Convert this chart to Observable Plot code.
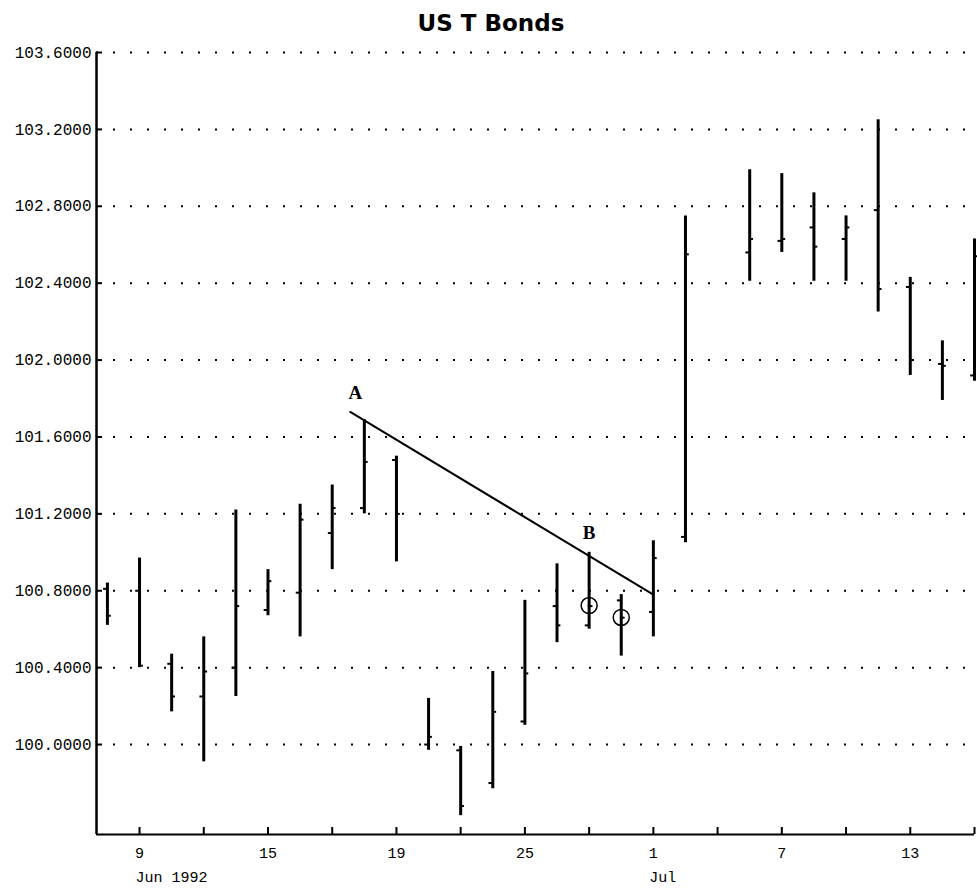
<!DOCTYPE html>
<html><head><meta charset="utf-8">
<script src="https://cdn.jsdelivr.net/npm/d3@7"></script>
<script src="https://cdn.jsdelivr.net/npm/@observablehq/plot@0.6"></script>
<style>
body{margin:0;background:#fff;}
#title{width:982px;height:42px;text-align:center;font-family:"DejaVu Sans";font-weight:bold;font-size:23px;line-height:46px;color:#000;}
#chart svg{display:block;}
</style></head><body>
<div id="title">US T Bonds</div>
<div id="chart"></div>
<script>
// trading sessions (Jul 3 holiday keeps its slot on the axis)
const sessions = ["1992-06-08","1992-06-09","1992-06-10","1992-06-11","1992-06-12",
  "1992-06-15","1992-06-16","1992-06-17","1992-06-18","1992-06-19",
  "1992-06-22","1992-06-23","1992-06-24","1992-06-25","1992-06-26",
  "1992-06-29","1992-06-30","1992-07-01","1992-07-02","1992-07-03",
  "1992-07-06","1992-07-07","1992-07-08","1992-07-09","1992-07-10",
  "1992-07-13","1992-07-14","1992-07-15"];

const barDates = ["1992-06-08","1992-06-09","1992-06-10","1992-06-11","1992-06-12",
  "1992-06-15","1992-06-16","1992-06-17","1992-06-18","1992-06-19",
  "1992-06-22","1992-06-23","1992-06-24","1992-06-25","1992-06-26",
  "1992-06-29","1992-06-30","1992-07-01","1992-07-02",
  "1992-07-06","1992-07-07","1992-07-08","1992-07-09","1992-07-10",
  "1992-07-13","1992-07-14","1992-07-15"];
const opens  = [100.81,100.80,100.42,100.25,100.40,100.70,100.79,101.10,101.23,101.48,
  100.00,99.97,99.80,100.12,100.72,100.62,100.75,100.69,101.08,
  102.56,102.62,102.69,102.63,102.78,102.38,101.98,101.92];
const highs  = [100.84,100.97,100.47,100.56,101.22,100.91,101.25,101.35,101.69,101.50,
  100.24,99.99,100.38,100.75,100.94,101.00,100.78,101.06,102.75,
  102.99,102.97,102.87,102.75,103.25,102.43,102.10,102.63];
const lows   = [100.62,100.40,100.17,99.91,100.25,100.67,100.56,100.91,101.20,100.95,
  99.97,99.63,99.77,100.10,100.53,100.60,100.46,100.56,101.05,
  102.41,102.56,102.41,102.41,102.25,101.92,101.79,101.89];
const closes = [100.67,100.41,100.25,100.38,100.72,100.85,101.17,101.23,101.47,101.20,
  100.04,99.68,100.17,100.37,100.62,100.72,100.66,100.97,102.55,
  102.63,102.63,102.59,102.69,102.37,102.00,101.97,102.54];

const yTicks = [100.0,100.4,100.8,101.2,101.6,102.0,102.4,102.8,103.2,103.6];
const tickDates = ["1992-06-09","1992-06-11","1992-06-15","1992-06-17","1992-06-19",
  "1992-06-23","1992-06-25","1992-06-29","1992-07-01","1992-07-03",
  "1992-07-07","1992-07-09","1992-07-13","1992-07-15"];
const tickLabels  = ["9","","15","","19","","25","","1","","7","","13",""];
const monthLabels = ["Jun 1992","","","","","","","","Jul","","","","",""];

// annotations
const trendDates  = [7.56, 17];          // session positions of the A–B trend line ends
const trendValues = [101.73, 100.78];
const noteTexts  = ["A","B"];
const notePos    = [7.72, 15.0];
const noteValues = [101.83, 101.10];
const circleDates  = ["1992-06-29","1992-06-30"];
const circleValues = [100.723, 100.661];

const xDomain = [-0.34, 27];
const yDomain = [99.532, 103.6];
const tickHalf = 0.12;

const idx = d => sessions.indexOf(d);
const bars = barDates.map((d,k)=>({i:idx(d),open:opens[k],high:highs[k],low:lows[k],close:closes[k]}));
const ticks = tickDates.map((d,k)=>({i:idx(d),label:tickLabels[k],month:monthLabels[k]}));
const trend = trendDates.map((p,k)=>({i:p,v:trendValues[k]}));
const notes = noteTexts.map((t,k)=>({i:notePos[k],v:noteValues[k],t}));
const circles = circleDates.map((d,k)=>({i:idx(d),v:circleValues[k]}));

const W=977, H=849, mL=96, mR=3, mT=10, mB=57;
const frameW = W-mL-mR, frameH = H-mT-mB;
const mono = "Liberation Mono";

const chart = Plot.plot({
  width: W, height: H, marginLeft: mL, marginRight: mR, marginTop: mT, marginBottom: mB,
  x: {domain: xDomain, axis: null},
  y: {domain: yDomain, axis: null},
  style: {background:"#fff"},
  marks: [
    Plot.ruleY(yTicks, {stroke:"#000", strokeWidth:2, strokeDasharray:"2,15"}),
    Plot.ruleX([xDomain[0]], {stroke:"#000", strokeWidth:2.5}),
    Plot.ruleY([yDomain[0]], {stroke:"#000", strokeWidth:2}),
    Plot.tickY(yTicks, {y:d=>d, insetRight: frameW-6, stroke:"#000", strokeWidth:2}),
    Plot.text(yTicks, {y:d=>d, text:d=>d.toFixed(4), frameAnchor:"left", dx:-5, textAnchor:"end",
      fontFamily: mono, fontSize:16, fill:"#000"}),
    Plot.tickX(ticks, {x:"i", insetTop: frameH-7, stroke:"#000", strokeWidth:2}),
    Plot.text(ticks, {x:"i", text:"label", frameAnchor:"bottom", dy:23, fontFamily: mono, fontSize:15, fill:"#000"}),
    Plot.text(ticks, {x:"i", text:"month", frameAnchor:"bottom", dy:47, dx:-4, textAnchor:"start", fontFamily: mono, fontSize:15, fill:"#000"}),
    Plot.ruleX(bars, {x:"i", y1:"low", y2:"high", stroke:"#000", strokeWidth:3}),
    Plot.ruleY(bars, {y:"open", x1:d=>d.i-tickHalf, x2:"i", stroke:"#000", strokeWidth:2}),
    Plot.ruleY(bars, {y:"close", x1:"i", x2:d=>d.i+tickHalf, stroke:"#000", strokeWidth:2}),
    Plot.line(trend, {x:"i", y:"v", stroke:"#000", strokeWidth:2}),
    Plot.dot(circles, {x:"i", y:"v", r:8, stroke:"#000", strokeWidth:1.5, fill:"none"}),
    Plot.dot(circles, {x:"i", y:"v", r:1.5, fill:"#000"}),
    Plot.text(notes, {x:"i", y:"v", text:"t", fontFamily:"Liberation Serif", fontWeight:"bold", fontSize:19, fill:"#000"})
  ]
});
document.getElementById("chart").appendChild(chart);
</script>
</body></html>
